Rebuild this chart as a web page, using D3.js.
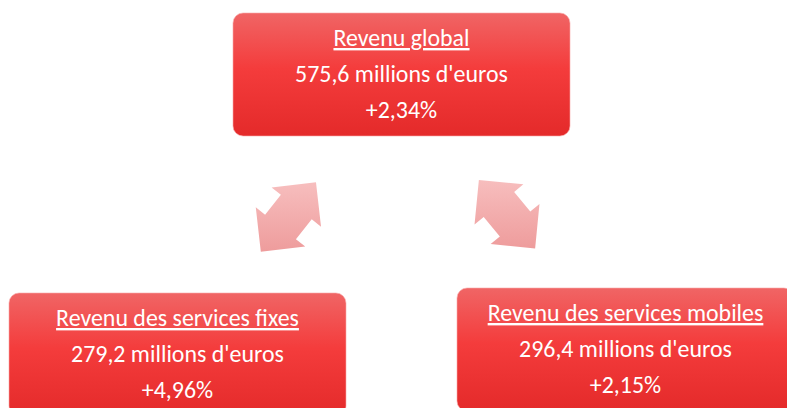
<!DOCTYPE html>
<html>
<head>
<meta charset="utf-8">
<script src="https://cdnjs.cloudflare.com/ajax/libs/d3/7.8.5/d3.min.js"></script>
<style>
  body { margin: 0; background: #fff; }
  svg { display: block; }
</style>
</head>
<body>
<script>
var svgWidth = 787;
var svgHeight = 408;

// data
var titles = ["Revenu global", "Revenu des services fixes", "Revenu des services mobiles"];
var amounts = [575.6, 279.2, 296.4];
var changes = [2.34, 4.96, 2.15];
var unit = "millions d'euros";

var frFormat = d3.formatLocale({ decimal: ",", thousands: " ", grouping: [3], currency: ["", " €"] });
var fmtAmount = frFormat.format(".1f");
var fmtChange = frFormat.format("+.2f");

// layout of the three boxes (top, bottom left, bottom right)
var boxW = 337, boxH = 123;
var boxPos = [
  { x: 233, y: 13 },
  { x: 9, y: 293 },
  { x: 457, y: 288 }
];

var svg = d3.select("body").append("svg")
  .attr("width", svgWidth)
  .attr("height", svgHeight);

var defs = svg.append("defs");

var boxGrad = defs.append("linearGradient")
  .attr("id", "boxGrad")
  .attr("x1", 0).attr("y1", 0).attr("x2", 0).attr("y2", 1);
boxGrad.append("stop").attr("offset", "0%").attr("stop-color", "#f06565");
boxGrad.append("stop").attr("offset", "45%").attr("stop-color", "#f43c3c");
boxGrad.append("stop").attr("offset", "100%").attr("stop-color", "#e42a2a");

var arrowGrad = defs.append("linearGradient")
  .attr("id", "arrowGrad")
  .attr("x1", 0).attr("y1", 0).attr("x2", 0).attr("y2", 1);
arrowGrad.append("stop").attr("offset", "0%").attr("stop-color", "#f7bebe");
arrowGrad.append("stop").attr("offset", "100%").attr("stop-color", "#ee9c9c");

// double headed arrows between the boxes
function arrowPoints(cx, cy, angle) {
  var headL = 31.6, headW = 31.6, shaftW = 19.7, half = 44.3;
  var local = [
    [half, 0], [half - headL, -headW], [half - headL, -shaftW],
    [-half + headL, -shaftW], [-half + headL, -headW], [-half, 0],
    [-half + headL, headW], [-half + headL, shaftW],
    [half - headL, shaftW], [half - headL, headW]
  ];
  var a = angle * Math.PI / 180;
  return local.map(function(p) {
    return [cx + p[0] * Math.cos(a) - p[1] * Math.sin(a),
            cy + p[0] * Math.sin(a) + p[1] * Math.cos(a)];
  });
}

var arrows = [
  { cx: 288.4, cy: 217, angle: -51.5 },
  { cx: 507, cy: 214.2, angle: 50.6 }
];

svg.selectAll(".arrow")
  .data(arrows)
  .enter()
  .append("path")
  .attr("class", "arrow")
  .attr("d", function(d) { return d3.line()(arrowPoints(d.cx, d.cy, d.angle)) + "Z"; })
  .style("fill", "url(#arrowGrad)");

// boxes
var boxes = svg.selectAll(".box")
  .data(titles)
  .enter()
  .append("g")
  .attr("class", "box")
  .attr("transform", function(d, i) { return "translate(" + boxPos[i].x + "," + boxPos[i].y + ")"; });

boxes.append("rect")
  .attr("width", boxW)
  .attr("height", boxH)
  .attr("rx", 10)
  .attr("ry", 10)
  .style("fill", "url(#boxGrad)")
  .style("stroke", "#f8a9a9")
  .style("stroke-width", 0.6);

var fontFamily = "Carlito, Lato, 'Open Sans', sans-serif";

// fit the font size so that the value line is about as wide as in the reference
var probe = svg.append("text")
  .style("font-family", fontFamily)
  .style("font-size", "100px")
  .text(fmtAmount(amounts[0]) + " " + unit);
var fontSize = 100 * 213 / probe.node().getComputedTextLength();
probe.remove();

var lines = [
  { dy: 33, text: function(d, i) { return titles[i]; }, underline: true },
  { dy: 69, text: function(d, i) { return fmtAmount(amounts[i]) + " " + unit; } },
  { dy: 105, text: function(d, i) { return fmtChange(changes[i]) + "%"; } }
];

lines.forEach(function(l) {
  boxes.append("text")
    .attr("x", boxW / 2)
    .attr("y", l.dy)
    .attr("text-anchor", "middle")
    .style("font-family", fontFamily)
    .style("font-size", fontSize + "px")
    .style("fill", "#ffffff")
    .style("text-decoration", l.underline ? "underline" : null)
    .text(l.text);
});
</script>
</body>
</html>
